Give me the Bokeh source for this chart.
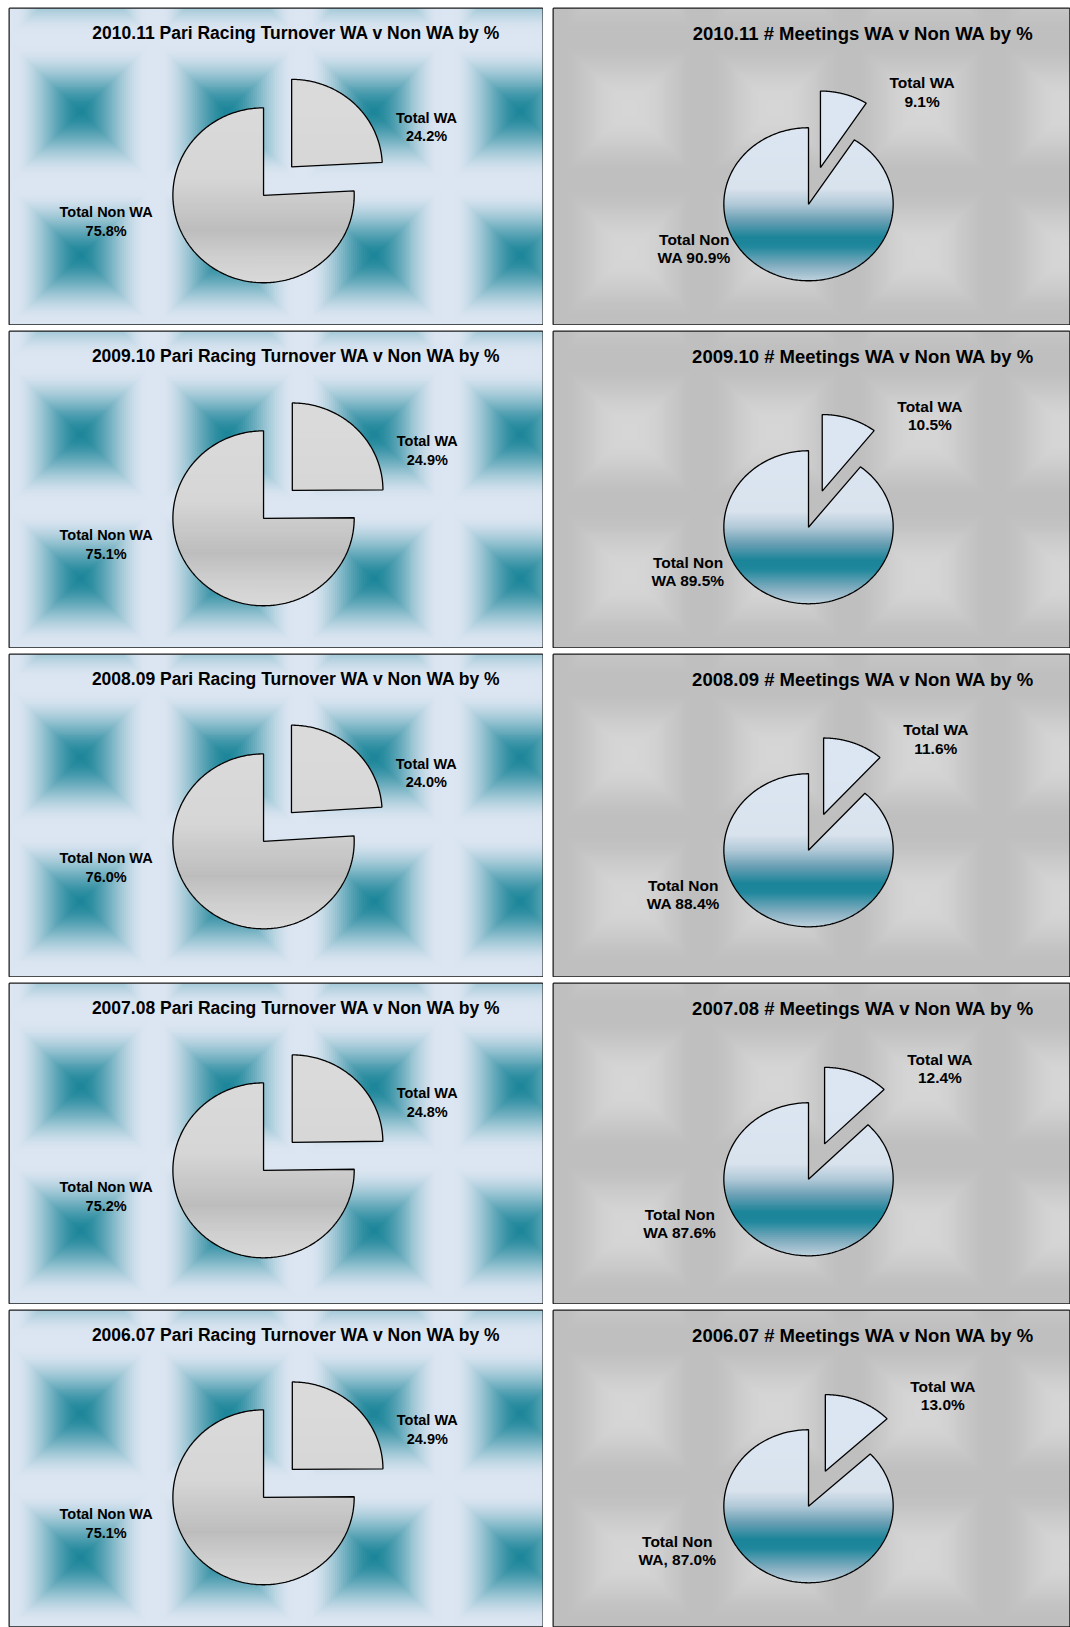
import numpy as np
from bokeh.plotting import figure
from bokeh.models import Range1d
from bokeh.layouts import row, column
from bokeh.embed import file_html
from bokeh.resources import INLINE
from bokeh.core.properties import value

# ---------------- data ----------------
years = ["2010.11", "2009.10", "2008.09", "2007.08", "2006.07"]
slice_names = ["Total WA", "Total Non WA"]
turnover_wa_pct = [24.2, 24.9, 24.0, 24.8, 24.9]
turnover_nonwa_pct = [75.8, 75.1, 76.0, 75.2, 75.1]
meetings_wa_pct = [9.1, 10.5, 11.6, 12.4, 13.0]
meetings_nonwa_pct = [90.9, 89.5, 88.4, 87.6, 87.0]
meetings_nonwa_sep = [" ", " ", " ", " ", ", "]
left_title_suffix = " Pari Racing Turnover WA v Non WA by %"
right_title_suffix = " # Meetings WA v Non WA by %"

# ---------------- layout / style ----------------
ROW_H = [318, 318, 324, 322, 318]
LEFT_W, RIGHT_W = 535, 518
FONT = value("Liberation Sans")


def hex2rgb(h):
    h = h.lstrip("#")
    return np.array([int(h[i:i + 2], 16) for i in (0, 2, 4)], dtype=float)


def smoothstep(a, b, t):
    x = np.clip((t - a) / (b - a), 0, 1)
    return x * x * (3 - 2 * x)


def bg_image(W, H, kind):
    step = 2
    nx, ny = int(np.ceil(W / step)), int(np.ceil(H / step))
    xs = np.arange(nx) * step + step / 2
    ys_up = np.arange(ny) * step + step / 2
    X, Yup = np.meshgrid(xs, ys_up)
    Yd = H - Yup
    sx, sy = 147.0, 145.0
    if kind == "left":
        cx0, cy0 = 71.0, 104.0
    else:
        cx0, cy0 = 76.0, 101.0
    dx = np.mod(X - cx0 + sx / 2, sx) - sx / 2
    dy = np.mod(Yd - cy0 + sy / 2, sy) - sy / 2
    t = np.maximum(np.abs(dx) / (sx / 2), np.abs(dy) / (sy / 2))
    if kind == "left":
        g = smoothstep(-0.05, 0.9, t)
        c0, c1 = hex2rgb("#1b8599"), hex2rgb("#dce6f2")
    else:
        g = smoothstep(0.12, 0.95, t)
        c0, c1 = hex2rgb("#d6d6d6"), hex2rgb("#bfbfbf")
    rgb = c0[None, None, :] + (c1 - c0)[None, None, :] * g[..., None]
    img = np.empty((ny, nx), dtype=np.uint32)
    view = img.view(dtype=np.uint8).reshape((ny, nx, 4))
    view[..., 0] = rgb[..., 0].astype(np.uint8)
    view[..., 1] = rgb[..., 1].astype(np.uint8)
    view[..., 2] = rgb[..., 2].astype(np.uint8)
    view[..., 3] = 255
    return img, nx * step, ny * step


GRAD = {
    "left": [(0.0, "#dadada"), (0.40, "#d6d6d6"), (0.70, "#bdbdbd"),
             (0.86, "#cfcfcf"), (1.0, "#d9d9d9")],
    "right": [(0.0, "#dce6f2"), (0.40, "#d9e3ee"), (0.50, "#b3cad8"),
              (0.61, "#6a9fb4"), (0.72, "#1b8499"), (0.78, "#1f879c"),
              (0.90, "#7eabbe"), (1.0, "#bcd0dc")],
}


def grad_color(kind, t):
    stops = GRAD[kind]
    ts = [s[0] for s in stops]
    cols = np.array([hex2rgb(s[1]) for s in stops])
    c = [np.interp(t, ts, cols[:, k]) for k in range(3)]
    return "#%02x%02x%02x" % tuple(int(round(v)) for v in c)


def wedge(cx, cy, rx, ry, a0, a1, n=120):
    a = np.radians(np.linspace(a0, a1, n))
    x = np.concatenate([[cx], cx + rx * np.sin(a)])
    y = np.concatenate([[cy], cy - ry * np.cos(a)])
    return list(zip(x, y))


def clip_poly(poly, keep, c):
    out = []
    n = len(poly)
    for i in range(n):
        cur, prev = poly[i], poly[i - 1]
        ci, pi = keep(cur[1]), keep(prev[1])
        if ci:
            if not pi:
                t = (c - prev[1]) / (cur[1] - prev[1])
                out.append((prev[0] + t * (cur[0] - prev[0]), c))
            out.append(cur)
        elif pi:
            t = (c - prev[1]) / (cur[1] - prev[1])
            out.append((prev[0] + t * (cur[0] - prev[0]), c))
    return out


def strips(poly, top, height, kind, H, dy=2.0):
    ys = [p[1] for p in poly]
    y0, y1 = min(ys), max(ys)
    xs_l, ys_l, cols = [], [], []
    y = y0
    while y < y1:
        a, b = y - 0.6, y + dy + 0.6
        part = clip_poly(poly, lambda v, a=a: v >= a, a)
        if part:
            part = clip_poly(part, lambda v, b=b: v <= b, b)
        if len(part) >= 3:
            xs_l.append([p[0] for p in part])
            ys_l.append([H - p[1] for p in part])
            cols.append(grad_color(kind, (y + dy / 2 - top) / height))
        y += dy
    return xs_l, ys_l, cols


def make_panel(kind, i, W, H):
    p = figure(width=W, height=H, x_range=Range1d(0, W), y_range=Range1d(0, H),
               toolbar_location=None, output_backend="svg", min_border=1,
               x_axis_location=None, y_axis_location=None)
    p.grid.visible = False
    p.outline_line_color = "#1c1c1c"
    p.outline_line_width = 2
    p.border_fill_color = "white"

    img, dw, dh = bg_image(W, H, kind)
    p.image_rgba(image=[img], x=0, y=0, dw=dw, dh=dh)

    if kind == "left":
        wa, nonwa = turnover_wa_pct[i], turnover_nonwa_pct[i]
        cx, cy, rx, ry, ex = 255.0, 188.0, 91.0, 88.0, 0.45
        title = years[i] + left_title_suffix
        tx, tsize, lsize = 288, "17.5px", "14.5px"
    else:
        wa, nonwa = meetings_wa_pct[i], meetings_nonwa_pct[i]
        cx, cy, rx, ry, ex = 256.0, 197.0, 85.0, 77.0, 0.5
        title = years[i] + right_title_suffix
        tx, tsize, lsize = 311, "18.5px", "15.5px"

    a_split = 360.0 * wa / (wa + nonwa)
    mid = np.radians(a_split / 2)
    ox, oy = ex * rx * np.sin(mid), -ex * ry * np.cos(mid)
    wa_poly = wedge(cx + ox, cy + oy, rx, ry, 0.0, a_split)
    non_poly = wedge(cx, cy, rx, ry, a_split, 360.0, n=300)

    top, height = cy - ry, 2 * ry
    for poly in (wa_poly, non_poly):
        xs_l, ys_l, cols = strips(poly, top, height, kind, H)
        p.patches(xs=xs_l, ys=ys_l, fill_color=cols, line_color=None)

    p.patches(xs=[[q[0] for q in wa_poly], [q[0] for q in non_poly]],
              ys=[[H - q[1] for q in wa_poly], [H - q[1] for q in non_poly]],
              fill_alpha=0, line_color="black", line_width=1.3)

    wa_x = [q[0] for q in wa_poly]
    wa_y = [q[1] for q in wa_poly]
    pct_wa = "%.1f%%" % wa
    pct_non = "%.1f%%" % nonwa
    gap = 9.35
    if kind == "left":
        lx_wa = max(wa_x) + 44.5
        ly_wa = (min(wa_y) + max(wa_y)) / 2 + 4
        lx_non = cx - 158
        ly_non = cy + 17 + gap
        texts = [slice_names[0], pct_wa, slice_names[1], pct_non]
    else:
        lx_wa = max(wa_x) + 56
        ly_wa = min(wa_y) + 1
        lx_non = cx - (73 + 148 * np.sin(mid))
        ly_non = cy + 35 + gap
        texts = [slice_names[0], pct_wa, "Total Non",
                 "WA" + meetings_nonwa_sep[i] + pct_non]
    lxs = [lx_wa, lx_wa, lx_non, lx_non]
    lys = [ly_wa - gap, ly_wa + gap, ly_non - gap, ly_non + gap]
    p.text(x=lxs, y=[H - v for v in lys], text=texts, text_font=FONT,
           text_font_style="bold", text_font_size=lsize, text_align="center",
           text_baseline="middle", text_color="black")

    p.text(x=[tx], y=[H - 25], text=[title], text_font=FONT,
           text_font_style="bold", text_font_size=tsize, text_align="center",
           text_baseline="middle", text_color="black")
    return p


rows = []
for i in range(len(years)):
    fl = make_panel("left", i, LEFT_W, ROW_H[i])
    fr = make_panel("right", i, RIGHT_W, ROW_H[i])
    rows.append(row(fl, fr, spacing=9))

layout = column(*rows, spacing=5, margin=(7, 0, 0, 8))

with open("out.html", "w") as f:
    f.write(file_html(layout, INLINE))
